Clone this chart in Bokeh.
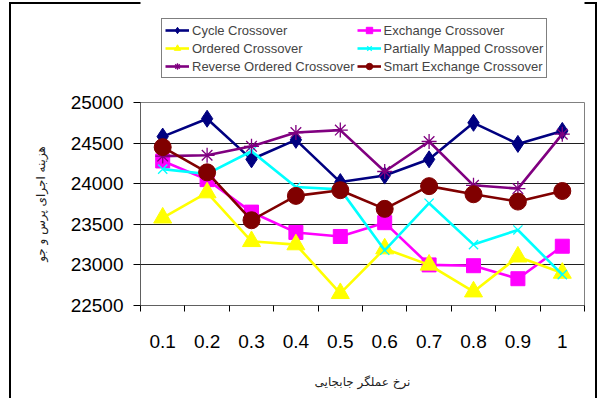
from bokeh.plotting import figure
from bokeh.layouts import column
from bokeh.models import Legend, LegendItem, FixedTicker
from bokeh.embed import file_html
from bokeh.resources import INLINE

rates = ["0.1", "0.2", "0.3", "0.4", "0.5", "0.6", "0.7", "0.8", "0.9", "1"]
cycle = [24580, 24800, 24300, 24540, 24020, 24100, 24300, 24750, 24490, 24650]
exchange = [24280, 24050, 23650, 23400, 23350, 23520, 23000, 22990, 22830, 23230]
ordered = [23580, 23890, 23290, 23250, 22650, 23200, 23000, 22670, 23100, 22900]
pmx = [24180, 24120, 24400, 23960, 23930, 23180, 23760, 23250, 23430, 22880]
reverse = [24340, 24350, 24460, 24630, 24660, 24150, 24520, 23980, 23940, 24610]
smart = [24450, 24140, 23550, 23850, 23920, 23690, 23970, 23870, 23780, 23910]
y_ticks = [22500, 23000, 23500, 24000, 24500, 25000]

xs = list(range(1, len(rates) + 1))

W = 597
p = figure(width=W, height=311, output_backend="svg", toolbar_location=None,
           x_range=(0.5, len(rates) + 0.5), y_range=(22500, 25000),
           min_border_left=140, min_border_right=13, min_border_top=15, min_border_bottom=93)
p.background_fill_color = "white"
p.border_fill_alpha = 0
p.outline_line_color = "#808080"
p.outline_line_width = 1
p.styles = {"box-shadow": "inset 9px 0 0 0 white, inset 11px 0 0 0 black, inset -2px 0 0 0 black"}

# axes
p.xaxis.ticker = FixedTicker(ticks=xs, minor_ticks=[x - 0.5 for x in xs] + [len(xs) + 0.5])
p.xaxis.major_label_overrides = {x: r for x, r in zip(xs, rates)}
p.xaxis.major_tick_line_color = None
p.xaxis.minor_tick_in = 0
p.xaxis.minor_tick_out = 6
p.xaxis.minor_tick_line_color = "black"
p.xaxis.major_label_standoff = 23
p.yaxis.ticker = FixedTicker(ticks=y_ticks)
p.yaxis.major_tick_in = 0
p.yaxis.major_tick_out = 7
p.yaxis.minor_tick_line_color = None
p.yaxis.major_label_standoff = 10
for ax in (p.xaxis, p.yaxis):
    ax.axis_line_color = "#606060"
    ax.major_label_text_font = "Liberation Sans"
    ax.major_label_text_font_size = "19px"
    ax.major_label_text_color = "black"
    ax.axis_label_text_font = "DejaVu Sans"
    ax.axis_label_text_font_size = "12px"
    ax.axis_label_text_font_style = "normal"
    ax.axis_label_text_color = "#222222"
p.xaxis.axis_label = "نرخ عملگر جابجایی"
p.yaxis.axis_label = "هزینه اجرای پرس و جو"
p.xaxis.axis_label_standoff = 24
p.yaxis.axis_label_standoff = 20

p.xgrid.grid_line_color = None
p.ygrid.ticker = FixedTicker(ticks=y_ticks)
p.ygrid.grid_line_color = "#202020"
p.ygrid.grid_line_width = 1

series = [
    ("Cycle Crossover", cycle, "#000080", "diamond", 17),
    ("Exchange Crossover", exchange, "#FF00FF", "square", 14),
    ("Ordered Crossover", ordered, "#FFFF00", "triangle", 18),
    ("Partially Mapped Crossover", pmx, "#00FFFF", "x", 13),
    ("Reverse Ordered Crossover", reverse, "#800080", "asterisk", 15),
    ("Smart Exchange Crossover", smart, "#800000", "circle", 17),
]

# a strip above the chart that only carries the legend
pl = figure(width=W, height=87, output_backend="svg", toolbar_location=None,
            x_range=(0, 1), y_range=(0, 1), x_axis_location=None, y_axis_location=None,
            min_border=0)
pl.outline_line_color = None
pl.grid.grid_line_color = None
pl.background_fill_color = "white"
pl.border_fill_alpha = 0
pl.styles = {"box-shadow": "inset 9px 0 0 0 white, inset 0 2px 0 0 white, "
                           "inset 11px 0 0 0 black, inset 0 4px 0 0 black, inset -2px 0 0 0 black"}


def add_series(fig, xv, yv, color, marker, size):
    lr = fig.line(xv, yv, line_color=color, line_width=2.6)
    if marker in ("x", "asterisk"):
        sr = fig.scatter(xv, yv, marker=marker, size=size, line_color=color, line_width=1.3)
    else:
        sr = fig.scatter(xv, yv, marker=marker, size=size, fill_color=color, line_color=color)
    return lr, sr


items = []
for name, vals, color, marker, size in series:
    add_series(p, xs, vals, color, marker, size)
    # legend-only copies, placed outside the strip's visible range
    lr, sr = add_series(pl, [-5, -4], [-5, -5], color, marker, round(size * 0.6))
    items.append(LegendItem(label=name, renderers=[lr, sr]))

legend = Legend(items=items, orientation="horizontal", ncols=2, location=(21, 9))
legend.label_text_font = "Liberation Sans"
legend.label_text_font_size = "13px"
legend.label_height = 16
legend.glyph_height = 16
legend.glyph_width = 24
legend.label_standoff = 3
legend.spacing = 2
legend.padding = 3
legend.margin = 0
legend.border_line_color = "black"
legend.border_line_width = 1
legend.background_fill_alpha = 1
pl.add_layout(legend, "center")

layout = column(pl, p, spacing=0)

open("out.html", "w").write(file_html(layout, INLINE))
